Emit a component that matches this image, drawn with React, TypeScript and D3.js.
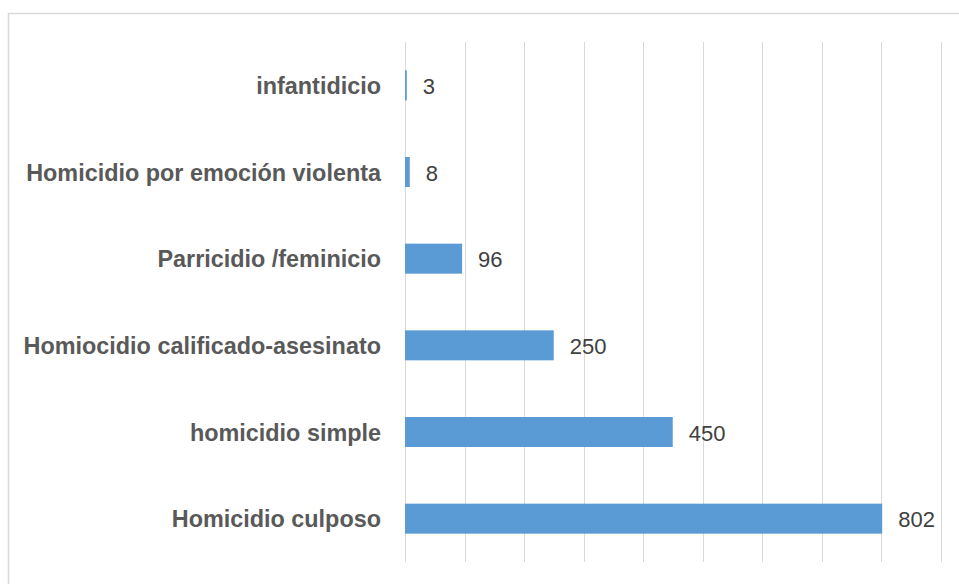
import React from "react";
import * as d3 from "d3";

const categories = [
  "infantidicio",
  "Homicidio por emoción violenta",
  "Parricidio /feminicio",
  "Homiocidio calificado-asesinato",
  "homicidio simple",
  "Homicidio culposo",
];
const values = [3, 8, 96, 250, 450, 802];
const xTicks = [0, 100, 200, 300, 400, 500, 600, 700, 800, 900];

const W = 959;
const H = 584;

export default function App() {
  const x = d3.scaleLinear().domain([0, 900]).range([405, 940.5]);
  const y = d3
    .scaleBand<string>()
    .domain(categories)
    .range([42, 562])
    .paddingInner(0.654)
    .paddingOuter(0.327);
  const bw = y.bandwidth();
  const font = "'Liberation Sans', Arial, sans-serif";
  return (
    <svg
      width={W}
      height={H}
      style={{ position: "absolute", left: 0, top: 0, background: "#fff" }}
    >
      <rect x={0} y={0} width={W} height={H} fill="#fff" />
      <rect
        x={8.5}
        y={13.5}
        width={980}
        height={600}
        fill="#fff"
        stroke="#d9d9d9"
        strokeWidth={1.5}
      />
      {xTicks.map((t) => (
        <line
          key={t}
          x1={Math.round(x(t)) + 0.5}
          x2={Math.round(x(t)) + 0.5}
          y1={42}
          y2={562}
          stroke="#d9d9d9"
          strokeWidth={1}
        />
      ))}
      {categories.map((c, i) => {
        const yy = y(c)!;
        const cy = yy + bw / 2;
        return (
          <g key={c}>
            <rect
              x={x(0)}
              y={yy}
              width={x(values[i]) - x(0)}
              height={bw}
              fill="#5b9bd5"
            />
            <text
              x={381}
              y={cy + 8.5}
              textAnchor="end"
              fontFamily={font}
              fontWeight="bold"
              fontSize={23.4}
              fill="#595959"
            >
              {c}
            </text>
            <text
              x={x(values[i]) + 16}
              y={cy + 8.5}
              fontFamily={font}
              fontSize={22}
              fill="#404040"
            >
              {values[i]}
            </text>
          </g>
        );
      })}
    </svg>
  );
}
